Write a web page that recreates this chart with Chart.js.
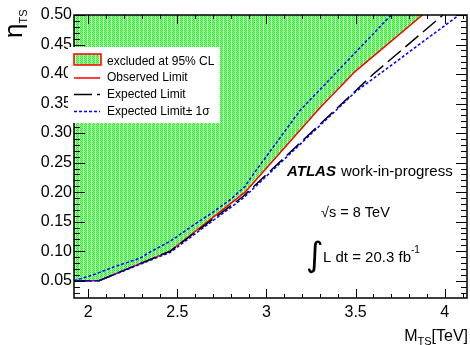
<!DOCTYPE html>
<html lang="en">
<head>
  <meta charset="UTF-8">
  <title>Excluded region eta_TS vs M_TS</title>
  <script src="https://cdn.jsdelivr.net/npm/chart.js"></script>
  <style>
    body { margin: 0; background: #fff; }
    canvas { display: block; }
  </style>
</head>
<body>
  <canvas id="limitChart" width="470" height="345"></canvas>

  <script>
    // axis ticks
    const xTicks = [2, 2.5, 3, 3.5, 4];
    const yTicks = [0.05, 0.10, 0.15, 0.20, 0.25, 0.30, 0.35, 0.40, 0.45, 0.50];

    // observed limit (red)
    const obsMass = [1.92, 2.06, 2.46, 2.88, 3.30, 3.50, 3.875];
    const obsEta  = [0.05, 0.05, 0.10, 0.20, 0.343, 0.405, 0.50];

    // expected limit (black dashed)
    const expMass = [1.92, 2.06, 2.46, 2.87, 3.60, 3.99];
    const expEta  = [0.05, 0.05, 0.10, 0.193, 0.40, 0.50];

    // expected +1 sigma (blue dotted, upper)
    const upMass = [1.92, 2.03, 2.14, 2.29, 2.35, 2.46, 2.57, 2.69, 2.80, 2.88, 2.93, 3.19, 3.70];
    const upEta  = [0.05, 0.06, 0.073, 0.088, 0.099, 0.117, 0.14, 0.164, 0.188, 0.21, 0.232, 0.339, 0.50];

    // expected -1 sigma (blue dotted, lower)
    const downMass = [1.92, 2.06, 2.46, 2.87, 3.50, 4.08];
    const downEta  = [0.05, 0.05, 0.098, 0.19, 0.37, 0.50];

    const FONT = '"Liberation Sans", Arial, Helvetica, sans-serif';

    function points(xs, ys) {
      return xs.map((x, i) => ({ x: x, y: ys[i] }));
    }

    // green hatched fill like the ROOT picture
    function makePattern() {
      const c = document.createElement('canvas');
      c.width = 4; c.height = 2;
      const g = c.getContext('2d');
      for (let i = 0; i < 4; i++) {
        for (let j = 0; j < 2; j++) {
          let col;
          if (i === 3) col = 'rgb(190,255,190)';
          else col = ((i + j) % 2 === 0) ? 'rgb(55,232,55)' : 'rgb(135,250,135)';
          g.fillStyle = col;
          g.fillRect(i, j, 1, 1);
        }
      }
      return g.createPattern(c, 'repeat');
    }
    const greenFill = makePattern();

    // frame, inward ticks, legend and labels
    const decorations = {
      id: 'decorations',
      afterDraw(chart) {
        const ctx = chart.ctx;
        const xs = chart.scales.x, ys = chart.scales.y;
        const a = chart.chartArea;
        ctx.save();

        // ticks
        ctx.strokeStyle = '#000';
        ctx.lineWidth = 1;
        ctx.beginPath();
        for (let k = 0; k <= 50; k++) {
          const v = Math.round((1.9 + k * 0.1) * 100) / 100;
          if (v < xs.min || v > xs.max) continue;
          const px = Math.round(xs.getPixelForValue(v)) + 0.5;
          const len = xTicks.includes(v) ? 9 : 4;
          ctx.moveTo(px, a.bottom); ctx.lineTo(px, a.bottom - len);
          ctx.moveTo(px, a.top); ctx.lineTo(px, a.top + len);
        }
        for (let k = 0; k <= 60; k++) {
          const v = Math.round((0.02 + k * 0.01) * 1000) / 1000;
          if (v < ys.min || v > ys.max + 1e-9) continue;
          const py = Math.round(ys.getPixelForValue(v)) + 0.5;
          const major = yTicks.some(t => Math.abs(t - v) < 1e-6);
          const len = major ? 11 : 6;
          ctx.moveTo(a.left, py); ctx.lineTo(a.left + len, py);
          ctx.moveTo(a.right, py); ctx.lineTo(a.right - len, py);
        }
        ctx.stroke();

        // frame
        ctx.lineWidth = 1.5;
        ctx.strokeRect(a.left, a.top, a.right - a.left, a.bottom - a.top);

        // legend
        ctx.fillStyle = '#fff';
        ctx.fillRect(68, 47, 152, 76);
        ctx.fillStyle = greenFill;
        ctx.fillRect(74, 54, 27, 11);
        ctx.strokeStyle = '#ff0000';
        ctx.lineWidth = 1.5;
        ctx.strokeRect(74, 54, 27, 11);

        ctx.beginPath();
        ctx.moveTo(74, 78); ctx.lineTo(100, 78);
        ctx.stroke();

        ctx.strokeStyle = '#000';
        ctx.setLineDash([18, 5]);
        ctx.beginPath();
        ctx.moveTo(74, 94.5); ctx.lineTo(100, 94.5);
        ctx.stroke();

        ctx.strokeStyle = '#0000ff';
        ctx.setLineDash([3, 2]);
        ctx.beginPath();
        ctx.moveTo(74, 111.5); ctx.lineTo(100, 111.5);
        ctx.stroke();
        ctx.setLineDash([]);

        ctx.fillStyle = '#000';
        ctx.font = '12px ' + FONT;
        ctx.textBaseline = 'middle';
        ctx.textAlign = 'left';
        ctx.fillText('excluded at 95% CL', 107, 62);
        ctx.fillText('Observed Limit', 107, 78);
        ctx.fillText('Expected Limit', 107, 94.5);
        ctx.fillText('Expected Limit\u00b1 1\u03c3', 107, 111.5);

        // ATLAS label
        ctx.textBaseline = 'alphabetic';
        ctx.font = 'italic bold 15px ' + FONT;
        ctx.fillText('ATLAS', 287, 176);
        ctx.font = '15px ' + FONT;
        ctx.fillText('work-in-progress', 341, 176);

        ctx.font = '14.5px ' + FONT;
        ctx.fillText('\u221As = 8 TeV', 321, 217);

        ctx.font = '34px "DejaVu Sans", ' + FONT;
        ctx.fillText('\u222B', 306, 266);
        ctx.font = '15px ' + FONT;
        ctx.fillText('L dt = 20.3 fb', 323, 262);
        const w = ctx.measureText('L dt = 20.3 fb').width;
        ctx.font = '10px ' + FONT;
        ctx.fillText('-1', 323 + w, 253);

        // x axis title, right aligned
        ctx.font = '16px ' + FONT;
        const wM = ctx.measureText('M').width;
        const wT = ctx.measureText('[TeV]').width;
        ctx.font = '11px ' + FONT;
        const wS = ctx.measureText('TS').width;
        let x0 = 468 - wM - wS - wT;
        ctx.font = '16px ' + FONT;
        ctx.fillText('M', x0, 341);
        ctx.font = '11px ' + FONT;
        ctx.fillText('TS', x0 + wM, 345);
        ctx.font = '16px ' + FONT;
        ctx.fillText('[TeV]', x0 + wM + wS, 341);

        // y axis title, rotated
        ctx.translate(22, 38);
        ctx.rotate(-Math.PI / 2);
        ctx.font = '26px ' + FONT;
        ctx.fillText('\u03b7', 0, 0);
        const wEta = ctx.measureText('\u03b7').width;
        ctx.font = '11px ' + FONT;
        ctx.fillText('TS', wEta, 5);

        ctx.restore();
      }
    };

    const ctx = document.getElementById('limitChart').getContext('2d');
    new Chart(ctx, {
      type: 'scatter',
      data: {
        datasets: [
          {
            label: 'Expected Limit- 1s',
            data: points(downMass, downEta),
            showLine: true,
            borderColor: '#0000ff',
            borderWidth: 1.5,
            borderDash: [3, 2],
            pointRadius: 0,
            fill: false
          },
          {
            label: 'Expected Limit+ 1s',
            data: points(upMass, upEta),
            showLine: true,
            borderColor: '#0000ff',
            borderWidth: 1.5,
            borderDash: [3, 2],
            pointRadius: 0,
            fill: false
          },
          {
            label: 'Expected Limit',
            data: points(expMass, expEta),
            showLine: true,
            borderColor: '#000000',
            borderWidth: 1.5,
            borderDash: [17, 6],
            pointRadius: 0,
            fill: false
          },
          {
            label: 'Observed Limit',
            data: points(obsMass, obsEta),
            showLine: true,
            borderColor: '#ff0000',
            borderWidth: 1.5,
            backgroundColor: greenFill,
            pointRadius: 0,
            fill: 'end'
          }
        ]
      },
      options: {
        responsive: false,
        animation: false,
        layout: { padding: { top: 15, right: 3, left: 0, bottom: 0 } },
        plugins: {
          legend: { display: false },
          tooltip: { enabled: false },
          filler: { drawTime: 'beforeDatasetsDraw' }
        },
        scales: {
          x: {
            type: 'linear',
            min: 1.92,
            max: 4.125,
            grid: { display: false, drawTicks: false },
            border: { display: false },
            afterFit(scale) { scale.height = 47; },
            afterBuildTicks(scale) { scale.ticks = xTicks.map(v => ({ value: v })); },
            ticks: {
              color: '#000',
              padding: 5,
              maxRotation: 0,
              font: { family: FONT, size: 16 },
              callback: v => String(v)
            }
          },
          y: {
            type: 'linear',
            min: 0.0207,
            max: 0.50,
            grid: { display: false, drawTicks: false },
            border: { display: false },
            afterFit(scale) { scale.width = 74; },
            afterBuildTicks(scale) { scale.ticks = yTicks.map(v => ({ value: v })); },
            ticks: {
              color: '#000',
              padding: 2,
              font: { family: FONT, size: 16 },
              callback: v => v.toFixed(2)
            }
          }
        }
      },
      plugins: [decorations]
    });
  </script>
</body>
</html>
